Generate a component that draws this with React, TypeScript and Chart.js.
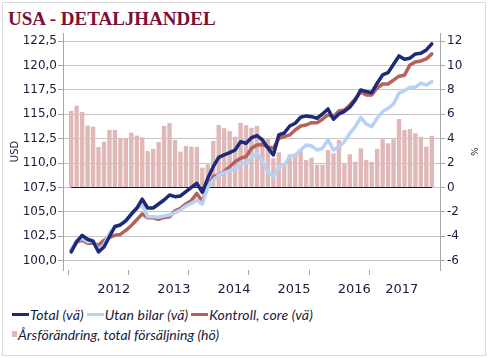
import React, { useEffect, useRef } from 'react';
import { Chart, registerables } from 'chart.js';
Chart.register(...registerables);

// Monthly categories (one empty month before and after the data)
const categories = [
  '2011-12',
  '2012-01','2012-02','2012-03','2012-04','2012-05','2012-06','2012-07','2012-08','2012-09','2012-10','2012-11','2012-12',
  '2013-01','2013-02','2013-03','2013-04','2013-05','2013-06','2013-07','2013-08','2013-09','2013-10','2013-11','2013-12',
  '2014-01','2014-02','2014-03','2014-04','2014-05','2014-06','2014-07','2014-08','2014-09','2014-10','2014-11','2014-12',
  '2015-01','2015-02','2015-03','2015-04','2015-05','2015-06','2015-07','2015-08','2015-09','2015-10','2015-11','2015-12',
  '2016-01','2016-02','2016-03','2016-04','2016-05','2016-06','2016-07','2016-08','2016-09','2016-10','2016-11','2016-12',
  '2017-01','2017-02','2017-03','2017-04','2017-05','2017-06','2017-07',
  '2017-08',
];

// Index (left axis), Jan 2012 .. Jul 2017
const total = [
  100.9, 101.95, 102.6, 102.2, 102.0, 100.9, 101.4, 102.46, 103.5, 103.66, 104.1, 104.78,
  105.37, 106.3, 105.4, 105.4, 105.81, 106.22, 106.73, 106.56, 106.63, 107.07, 107.52, 107.93,
  107.0, 108.44, 109.63, 110.59, 110.83, 111.07, 111.34, 112.19, 112.03, 112.6, 112.81, 112.37,
  111.55, 110.83, 112.88, 113.08, 113.8, 114.08, 114.69, 114.83, 114.75, 114.59, 115.03, 115.54,
  114.49, 115.03, 115.3, 115.72, 116.47, 117.49, 117.32, 117.21, 118.18, 119.03, 119.26, 120.12,
  120.97, 120.63, 120.74, 121.18, 121.25, 121.59, 122.2,
];
const utanBilar = [
  101.1, 102.05, 102.3, 101.95, 102.05, 101.1, 101.6, 102.8, 103.5, 103.7, 104.0, 104.68,
  105.37, 105.7, 104.5, 104.5, 104.45, 104.58, 104.68, 104.92, 105.2, 105.6, 105.88, 106.22,
  105.8, 107.58, 108.27, 108.78, 109.02, 109.22, 109.36, 109.98, 109.98, 110.62, 111.0, 110.14,
  109.12, 108.6, 109.63, 109.8, 110.66, 110.83, 111.34, 111.86, 111.75, 111.34, 111.52, 112.37,
  111.34, 111.68, 112.19, 113.05, 113.73, 114.69, 114.0, 113.73, 114.59, 115.27, 115.61, 116.06,
  117.15, 117.42, 117.77, 117.77, 118.18, 118.0, 118.34,
];
const kontroll = [
  101.1, 101.9, 102.1, 101.8, 101.8, 101.6, 102.1, 102.4, 102.6, 102.7, 103.1, 103.6,
  104.2, 104.8, 104.4, 104.4, 104.24, 104.43, 104.5, 105.12, 105.37, 105.81, 106.15, 106.9,
  106.05, 107.58, 108.6, 108.78, 109.12, 109.63, 110.14, 110.49, 110.66, 111.52, 111.86, 111.9,
  111.65, 111.52, 112.54, 112.7, 112.88, 113.39, 113.8, 113.9, 114.14, 114.14, 114.49, 114.93,
  114.75, 115.34, 115.44, 115.95, 116.57, 117.28, 116.98, 116.98, 117.69, 118.1, 118.1, 118.5,
  118.9, 119.0, 120.05, 120.36, 120.46, 120.67, 121.18,
];
// Year-on-year change, % (right axis)
const arsforandring = [
  6.27, 6.7, 6.19, 5.07, 4.98, 3.32, 3.75, 4.71, 4.71, 4.0, 4.0, 4.49,
  4.25, 4.11, 2.99, 3.16, 3.73, 5.04, 5.29, 3.89, 2.94, 3.4, 3.35, 3.32,
  1.62, 1.9, 3.81, 5.12, 4.85, 4.63, 4.16, 5.29, 5.1, 4.9, 5.04, 4.08,
  4.0, 2.39, 2.88, 1.98, 2.72, 2.72, 3.13, 2.25, 2.44, 1.87, 1.87, 3.07,
  2.8, 3.89, 1.98, 2.72, 2.12, 3.21, 2.25, 2.09, 3.16, 3.95, 3.62, 3.95,
  5.61, 4.71, 4.8, 4.44, 4.16, 3.35, 4.22,
];

const years = ['2012', '2013', '2014', '2015', '2016', '2017'];
const leftTicks = [100, 102.5, 105, 107.5, 110, 112.5, 115, 117.5, 120, 122.5];
const rightTicks = [-6, -4, -2, 0, 2, 4, 6, 8, 10, 12];
const leftMin = 99.05;
const leftMax = 123.32;
const toRight = (v: number) => (v - 107.5) * 0.8;

const NAVY = '#1c2a78';
const LIGHT = '#b8d2f5';
const RED = '#b5625c';
const PINK = '#dfb8b7';
const TEXT = '#1a1a3a';
const GRID = '#c4c4c4';
const AXIS = '#a6a6a6';

const pad = (arr: number[]) => [null, ...arr, null];

// year tick positions derived from the category list
const firstDataIdx = 1;
const lastDataIdx = firstDataIdx + total.length - 1;
const yearBounds: number[] = [];
const yearCenters: { v: number; label: string }[] = [];
years.forEach((y) => {
  const idx = categories
    .map((c, i) => (c.startsWith(y) && i >= firstDataIdx && i <= lastDataIdx ? i : -1))
    .filter((i) => i >= 0);
  yearBounds.push(idx[0] - 0.5);
  yearCenters.push({ v: (idx[0] + idx[idx.length - 1]) / 2, label: y });
});
const xTickValues = [...yearBounds, ...yearCenters.map((c) => c.v)].sort((a, b) => a - b);

const zeroLine = {
  id: 'zeroLine',
  afterDatasetDraw(chart: any, args: any) {
    if (chart.data.datasets[args.index].type !== 'bar') return;
    const x = chart.scales.x;
    const y1 = chart.scales.y1;
    const yy = Math.round(y1.getPixelForValue(0)) + 0.5;
    const ctx = chart.ctx;
    ctx.save();
    ctx.strokeStyle = '#1a1a1a';
    ctx.lineWidth = 1;
    ctx.beginPath();
    ctx.moveTo(x.getPixelForValue(firstDataIdx), yy);
    ctx.lineTo(x.getPixelForValue(lastDataIdx), yy);
    ctx.stroke();
    ctx.restore();
  },
};

export default function App() {
  const ref = useRef<HTMLCanvasElement>(null);
  useEffect(() => {
    const lineDs = (label: string, data: number[], color: string, order: number) => ({
      type: 'line' as const,
      label,
      data: pad(data),
      borderColor: color,
      backgroundColor: color,
      borderWidth: 3.5,
      pointRadius: 0,
      tension: 0,
      borderJoinStyle: 'round' as const,
      borderCapStyle: 'round' as const,
      yAxisID: 'y',
      xAxisID: 'x',
      order,
    });
    const chart = new Chart(ref.current!, {
      type: 'bar',
      data: {
        labels: categories,
        datasets: [
          lineDs('Total (vä)', total, NAVY, 0),
          lineDs('Utan bilar (vä)', utanBilar, LIGHT, 1),
          lineDs('Kontroll, core (vä)', kontroll, RED, 2),
          {
            type: 'bar' as const,
            label: 'Årsförändring, total försäljning (hö)',
            data: pad(arsforandring),
            backgroundColor: PINK,
            borderWidth: 0,
            categoryPercentage: 1,
            barPercentage: 0.8,
            yAxisID: 'y1',
            xAxisID: 'x',
            order: 3,
          } as any,
        ],
      },
      options: {
        animation: false,
        responsive: false,
        layout: { padding: { left: 4, right: 3, top: 33, bottom: 0 } },
        plugins: { legend: { display: false }, tooltip: { enabled: false } },
        scales: {
          x: { type: 'category', display: false, offset: true },
          xt: {
            type: 'linear',
            position: 'bottom',
            min: -0.5,
            max: categories.length - 0.5,
            afterBuildTicks: (s: any) => {
              s.ticks = xTickValues.map((v) => ({ value: v }));
            },
            afterFit: (s: any) => {
              s.height = 30;
            },
            border: { display: false },
            grid: {
              drawOnChartArea: false,
              drawTicks: true,
              tickLength: 5,
              tickColor: (ctx: any) =>
                yearBounds.includes(ctx.tick?.value) ? AXIS : 'rgba(0,0,0,0)',
            },
            ticks: {
              autoSkip: false,
              maxRotation: 0,
              minRotation: 0,
              padding: 7,
              color: TEXT,
              font: { family: 'DejaVu Sans', size: 13 },
              callback: (v: any) => {
                const c = yearCenters.find((yc) => yc.v === v);
                return c ? c.label : '';
              },
            },
          },
          y: {
            type: 'linear',
            position: 'left',
            min: leftMin,
            max: leftMax,
            afterBuildTicks: (s: any) => {
              s.ticks = leftTicks.map((v) => ({ value: v }));
            },
            afterFit: (s: any) => {
              s.width = 59;
            },
            border: { display: true, color: AXIS },
            grid: { color: GRID, tickColor: AXIS, tickLength: 5, drawOnChartArea: true },
            title: {
              display: true,
              text: 'USD',
              color: TEXT,
              font: { family: 'DejaVu Sans', size: 10 },
              padding: { top: 5, bottom: 0 },
            },
            ticks: {
              padding: 1,
              color: TEXT,
              font: { family: 'DejaVu Sans', size: 12 },
              callback: (v: any) => Number(v).toFixed(1).replace('.', ','),
            },
          },
          y1: {
            type: 'linear',
            position: 'right',
            min: toRight(leftMin),
            max: toRight(leftMax),
            afterBuildTicks: (s: any) => {
              s.ticks = rightTicks.map((v) => ({ value: v }));
            },
            afterFit: (s: any) => {
              s.width = 45;
            },
            border: { display: true, color: AXIS },
            grid: { drawOnChartArea: false, tickColor: AXIS, tickLength: 5 },
            title: {
              display: true,
              text: '%',
              color: TEXT,
              font: { family: 'DejaVu Sans', size: 9 },
              padding: { top: 6, bottom: 0 },
            },
            ticks: {
              padding: 2,
              color: TEXT,
              font: { family: 'DejaVu Sans', size: 12 },
              callback: (v: any) => String(v),
            },
          },
        },
      } as any,
      plugins: [zeroLine],
    });
    return () => chart.destroy();
  }, []);

  const legendFont: React.CSSProperties = {
    fontFamily: 'Lato, "Open Sans", sans-serif',
    fontStyle: 'italic',
    fontSize: 14,
    color: TEXT,
    whiteSpace: 'nowrap',
  };
  const lineMark = (c: string): React.CSSProperties => ({
    display: 'inline-block',
    width: 17,
    height: 3,
    background: c,
    marginRight: 1,
  });

  return (
    <div style={{ position: 'absolute', left: 0, top: 0, width: 488, height: 358, background: '#fff' }}>
      <div
        style={{
          position: 'absolute',
          left: 2,
          top: 2,
          width: 482,
          height: 352,
          border: '1px solid #d9d9d9',
        }}
      />
      <div
        style={{
          position: 'absolute',
          left: 8,
          top: 9,
          fontFamily: '"Liberation Serif", serif',
          fontWeight: 'bold',
          fontSize: 19,
          lineHeight: '19px',
          color: '#7d0f32',
          whiteSpace: 'nowrap',
        }}
      >
        USA - DETALJHANDEL
      </div>
      <canvas ref={ref} width={488} height={300} style={{ position: 'absolute', left: 0, top: 0 }} />
      <div
        style={{
          position: 'absolute',
          left: 12,
          top: 306,
          height: 16,
          display: 'flex',
          alignItems: 'center',
          ...legendFont,
        }}
      >
        <span style={lineMark(NAVY)} />
        <span style={{ marginRight: 3, letterSpacing: 0.15 }}>Total (vä)</span>
        <span style={lineMark(LIGHT)} />
        <span style={{ marginRight: 3, letterSpacing: 0.15 }}>Utan bilar (vä)</span>
        <span style={lineMark(RED)} />
        <span style={{ letterSpacing: 0.15 }}>Kontroll, core (vä)</span>
      </div>
      <div
        style={{
          position: 'absolute',
          left: 12,
          top: 326,
          height: 16,
          display: 'flex',
          alignItems: 'center',
          ...legendFont,
        }}
      >
        <span style={{ display: 'inline-block', width: 5, height: 6, background: PINK, marginRight: 1 }} />
        <span>Årsförändring, total försäljning (hö)</span>
      </div>
    </div>
  );
}
